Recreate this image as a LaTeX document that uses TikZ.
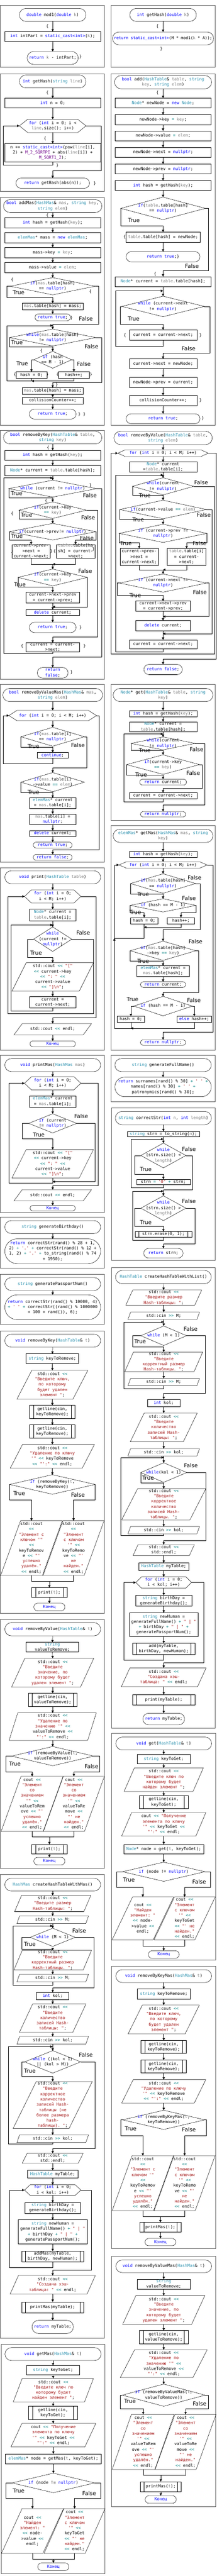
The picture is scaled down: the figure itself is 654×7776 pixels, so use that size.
\documentclass[tikz,border=0pt]{standalone}
\usepackage{fontspec}
\setmonofont{DejaVu Sans Mono}
\setsansfont{DejaVu Sans}
\usetikzlibrary{shapes.geometric,shapes.misc,arrows.meta}
\definecolor{kwc}{HTML}{0000FF}
\definecolor{tyc}{HTML}{2B91AF}
\definecolor{pac}{HTML}{808080}
\definecolor{src}{HTML}{A31515}
\definecolor{mcc}{HTML}{6F008A}
\definecolor{opc}{HTML}{008080}
\newcommand\kw[1]{\textcolor{kwc}{#1}}
\newcommand\ty[1]{\textcolor{tyc}{#1}}
\newcommand\pa[1]{\textcolor{pac}{#1}}
\newcommand\sr[1]{\textcolor{src}{#1}}
\newcommand\mc[1]{\textcolor{mcc}{#1}}
\newcommand\op[1]{\textcolor{opc}{#1}}
\newcommand\lns[1]{\makebox[0pt]{\raisebox{-3.1pt}[0pt][0pt]{\begin{tabular}{@{}c@{}}#1\end{tabular}}}}
\newcommand\ioframe[2]{\draw [thick] ([xshift=#2]#1.north west) -- (#1.north east) -- ([xshift=-#2]#1.south east) -- (#1.south west) -- cycle;}
\newcommand\hexframe[2]{\draw [thick] (#1.west) -- ([xshift=#2]#1.north west) -- ([xshift=-#2]#1.north east) -- (#1.east) -- ([xshift=-#2]#1.south east) -- ([xshift=#2]#1.south west) -- cycle;}
\tikzset{
  base/.style={inner sep=0pt, outer sep=0pt, line width=0.8pt, font=\ttfamily\fontsize{12.5}{16}\selectfont},
  term/.style 2 args={base, draw, rounded rectangle, minimum width=#1, minimum height=#2},
  proc/.style 2 args={base, draw, rectangle, minimum width=#1, minimum height=#2},
  pred/.style 2 args={proc={#1}{#2}, path picture={\draw [line width=0.8pt] ([xshift=12pt]path picture bounding box.north west) -- ([xshift=12pt]path picture bounding box.south west) ([xshift=-12pt]path picture bounding box.north east) -- ([xshift=-12pt]path picture bounding box.south east);}},
  dec/.style 2 args={base, draw, diamond, minimum width=#1, minimum height=#2},
  bare/.style 2 args={base, rectangle, minimum width=#1, minimum height=#2},
  lbl/.style={inner sep=0pt, font=\sffamily\fontsize{16.5}{18}\selectfont},
  brc/.style={inner sep=0pt, font=\ttfamily\fontsize{12.5}{16}\selectfont},
  panel/.style={draw=black!65, line width=1.2pt}
}
\begin{document}
\begin{tikzpicture}[x=1pt, y=-1pt, >={Triangle[length=7pt,width=7pt]}]
\path [fill=white] (0,0) rectangle (654,7776);
\draw [panel] (1,16) rectangle (315,203);
\draw [panel] (335,16) rectangle (649,203);
\draw [panel] (1,223) rectangle (315,577);
\draw [panel] (335,223) rectangle (649,1283);
\draw [panel] (1,597) rectangle (315,1283);
\draw [panel] (1,1299) rectangle (315,2051);
\draw [panel] (1,2066) rectangle (315,2602);
\draw [panel] (335,2066) rectangle (649,2476);
\draw [panel] (335,2492) rectangle (649,3170);
\draw [panel] (1,2619) rectangle (315,3170);
\draw [panel] (1,3186) rectangle (315,3660);
\draw [panel] (335,3186) rectangle (649,3325);
\draw [panel] (336,3345) rectangle (649,3805);
\draw [panel] (1,3674) rectangle (315,3828);
\draw [panel] (1,3846) rectangle (315,3997);
\draw [panel] (336,3826) rectangle (649,5217);
\draw [panel] (1,4018) rectangle (315,4870);
\draw [panel] (1,4888) rectangle (315,5640);
\draw [panel] (337,5233) rectangle (650,5917);
\draw [panel] (1,5659) rectangle (315,7058);
\draw [panel] (337,5935) rectangle (650,6788);
\draw [panel] (337,6811) rectangle (650,7567);
\draw [panel] (3,7076) rectangle (317,7768);

\node [term={201}{39}] (ma1) at (159,45) {\lns{\kw{double} mod1(\kw{double} \pa{k})}};
\node [brc] (ma2) at (143,79) {\{};
\node [proc={288}{30}] (ma3) at (159,110) {\lns{\kw{int} intPart = \kw{static\_cast<int>}(\pa{k});}};
\node [term={154}{39}] (ma4) at (159,175) {\lns{\kw{return} \pa{k} - intPart;}};
\node [brc] (ma5) at (243,171) {\}};
\draw [thick, ->] (ma1.south) -- (ma3.north);
\draw [thick, ->] (ma3.south) -- (ma4.north);

\node [term={201}{39}] (ga1) at (492,45) {\lns{\kw{int} getHash(\kw{double} \pa{k})}};
\node [brc] (ga2) at (475,79) {\{};
\node [term={305}{39}, font=\ttfamily\fontsize{12}{16}\selectfont] (ga3) at (492,116) {\lns{\kw{return static\_cast<int>}(M * mod1(\pa{k} * A));}};
\node [brc] (ga4) at (487,148) {\}};
\draw [thick, ->] (ga1.south) -- (ga3.north);

\node [term={201}{39}] (gs1) at (159,246) {\lns{\kw{int} getHash(\ty{string} \pa{line})}};
\node [brc] (gs2) at (143,280) {\{};
\node [proc={288}{30}] (gs3) at (159,311) {\lns{\kw{int} n = 0;}};
\node [bare={201}{40}] (gs4) at (159,380) {\lns{\kw{for} (\kw{int} i = 0; i <\\ \pa{line}.size(); i++)}};
\node [brc] (gs5) at (136,419) {\{};
\node [proc={288}{55}] (gs6) at (159,461) {\lns{n += \kw{static\_cast<int>}(pow(\pa{line}[i],\\ 2) + \mc{M\_2\_SQRTPI} + abs(\pa{line}[i]) +\\ \mc{M\_SQRT1\_2});}};
\node [brc] (gs7) at (173,499) {\}};
\node [term={222}{31}] (gs8) at (159,553) {\lns{\kw{return} getHash(abs(n));}};
\node [brc] (gs9) at (286,554) {\}};
\hexframe{gs4}{25}
\draw [thick, ->] (gs1.south) -- (gs3.north);
\draw [thick, ->] (gs3.south) -- (gs4.north);
\draw [thick, ->] (gs4.south) -- (gs6.north);
\draw [thick, ->] (gs6.south) |- (9,498) |- (gs4.west);
\draw [thick, ->] (gs4.east) -| (305,515) -| (gs8.north);

\node [term={293}{40}] (ad1) at (492,248) {\lns{\kw{bool} add(\ty{HashTable}\& \pa{table}, \ty{string}\\ \pa{key}, \ty{string} \pa{elem})}};
\node [brc] (ad2) at (475,280) {\{};
\node [proc={289}{30}] (ad3) at (492,311) {\lns{\ty{Node}* newNode = \kw{new} \ty{Node};}};
\node [proc={289}{30}] (ad4) at (492,361) {\lns{newNode->key \op{=} \pa{key};}};
\node [proc={289}{30}] (ad5) at (492,410) {\lns{newNode->value \op{=} \pa{elem};}};
\node [proc={289}{30}] (ad6) at (492,460) {\lns{newNode->next = \kw{nullptr};}};
\node [proc={289}{30}] (ad7) at (492,510) {\lns{newNode->prev = \kw{nullptr};}};
\node [proc={289}{30}] (ad8) at (492,560) {\lns{\kw{int} hash = getHash(\pa{key});}};
\node [dec={255}{68}] (ad9) at (492,629) {\lns{\kw{if}(\pa{table}.table[hash]\\ == \kw{nullptr})}};
\node [lbl] (ad10) at (404,665) {True};
\node [brc] (ad11) at (376,716) {\{};
\node [proc={223}{31}] (ad12) at (492,716) {\lns{\pa{table}.table[hash] = newNode;}};
\node [term={223}{31}] (ad13) at (492,775) {\lns{\kw{return true};\}}};
\node [lbl] (ad14) at (579,804) {False};
\node [brc] (ad15) at (468,827) {\{};
\node [proc={289}{30}] (ad16) at (492,850) {\lns{\ty{Node}* current = \pa{table}.table[hash];}};
\node [dec={249}{62}] (ad17) at (492,925) {\lns{\kw{while} (current->next\\ != \kw{nullptr})}};
\node [lbl] (ad18) at (403,962) {True};
\node [brc] (ad19) at (377,1012) {\{};
\node [proc={204}{31}] (ad20) at (492,1011) {\lns{current = current->next;}};
\node [brc] (ad21) at (605,1012) {\}};
\node [lbl] (ad22) at (569,1052) {False};
\node [proc={204}{30}] (ad23) at (492,1098) {\lns{current->next = newNode;}};
\node [proc={204}{31}] (ad24) at (492,1154) {\lns{newNode->prev = current;}};
\node [proc={204}{31}] (ad25) at (492,1209) {\lns{collisionCounter++;}};
\node [brc] (ad26) at (605,1208) {\}};
\node [term={223}{30}] (ad27) at (492,1264) {\lns{\kw{return true};}};
\node [brc] (ad28) at (612,1263) {\}};
\draw [thick, ->] (ad1.south) -- (ad3.north);
\draw [thick, ->] (ad3.south) -- (ad4.north);
\draw [thick, ->] (ad4.south) -- (ad5.north);
\draw [thick, ->] (ad5.south) -- (ad6.north);
\draw [thick, ->] (ad6.south) -- (ad7.north);
\draw [thick, ->] (ad7.south) -- (ad8.north);
\draw [thick, ->] (ad8.south) -- (ad9.north);
\draw [thick, ->] (ad9.west) |- (492,682) -- (ad12.north);
\draw [thick, ->] (ad12.south) -- (ad13.north);
\draw [thick, ->] (ad9.east) -| (628,817) -| (ad16.north);
\draw [thick, ->] (ad16.south) -- (ad17.north);
\draw [thick, ->] (ad17.west) -| (362,979) -| (ad20.north);
\draw [thick, ->] (ad20.south) |- (349,1045) |- ([yshift=16]ad17.north);
\draw [thick, ->] (ad17.east) -| (633,1065) -| (ad23.north);
\draw [thick, ->] (ad23.south) -- (ad24.north);
\draw [thick, ->] (ad24.south) -- (ad25.north);
\draw [thick, ->] (ad25.south) -- (ad27.north);

\node [term={297}{39}] (am1) at (159,622) {\lns{\kw{bool} addMas(\ty{HashMas}\& \pa{mas}, \ty{string} \pa{key},\\ \ty{string} \pa{elem})}};
\node [brc] (am2) at (143,650) {\{};
\node [proc={288}{31}] (am3) at (159,672) {\lns{\kw{int} hash = getHash(\pa{key});}};
\node [proc={288}{31}] (am4) at (159,717) {\lns{\ty{elemMas}* mass = \kw{new} \ty{elemMas};}};
\node [proc={288}{31}] (am5) at (159,762) {\lns{mass->key \op{=} \pa{key};}};
\node [proc={288}{31}] (am6) at (159,808) {\lns{mass->value \op{=} \pa{elem};}};
\node [brc] (am7) at (37,844) {\{};
\node [dec={256}{52}] (am8) at (159,864) {\lns{\kw{if}(\pa{mas}.table[hash]\\ == \kw{nullptr})}};
\node [lbl] (am9) at (56,883) {True};
\node [brc] (am10) at (273,881) {\{};
\node [proc={185}{20}] (am11) at (159,925) {\lns{\pa{mas}.table[hash] = mass;}};
\node [term={107}{21}] (am12) at (159,958) {\lns{\kw{return true};}};
\node [brc] (am13) at (216,959) {\}};
\node [lbl] (am14) at (259,962) {False};
\node [dec={261}{51}] (am15) at (159,1019) {\lns{\kw{while}(\pa{mas}.table[hash]\\ != \kw{nullptr})}};
\node [lbl] (am16) at (51,1033) {True};
\node [lbl] (am17) at (276,1046) {False};
\node [brc] (am18) at (125,1060) {\{};
\node [dec={114}{51}] (am19) at (159,1086) {\lns{\kw{if} (hash\\ == M - 1)}};
\node [lbl] (am20) at (67,1097) {True};
\node [lbl] (am21) at (253,1099) {False};
\node [proc={93}{20}] (am22) at (95,1132) {\lns{hash = 0;}};
\node [brc] (am23) at (45,1131) {\{};
\node [brc] (am24) at (143,1131) {\}};
\node [proc={93}{20}] (am25) at (223,1132) {\lns{hash++;}};
\node [brc] (am26) at (174,1131) {\{};
\node [brc] (am27) at (275,1131) {\}};
\node [brc] (am28) at (171,1162) {\}};
\node [proc={185}{20}] (am29) at (159,1180) {\lns{\pa{mas}.table[hash] = mass;}};
\node [proc={185}{20}] (am30) at (159,1209) {\lns{collisionCounter++;}};
\node [term={141}{30}] (am31) at (159,1250) {\lns{\kw{return true};}};
\node [brc] (am32) at (247,1250) {\} \}};
\draw [thick, ->] (am1.south) -- (am3.north);
\draw [thick, ->] (am3.south) -- (am4.north);
\draw [thick, ->] (am4.south) -- (am5.north);
\draw [thick, ->] (am5.south) -- (am6.north);
\draw [thick, ->] (am6.south) -- (am8.north);
\draw [thick, ->] (am8.west) -| (20,898) -| (am11.north);
\draw [thick, ->] (am11.south) -- (am12.north);
\draw [thick, ->] (am8.east) -| (297,978) -| (am15.north);
\draw [thick, ->] (am15.west) |- (159,1047) -- (am19.north);
\draw [thick, ->] (am19.west) -| (am22.north);
\draw [thick, ->] (am19.east) -| (am25.north);
\draw [thick, ->] (am25.south) |- (95,1150);
\draw [thick, ->] (am22.south) |- (20,1150) |- ([yshift=11]am15.north);
\draw [thick, ->] (am15.east) -| (306,1155) -| (am29.north);
\draw [thick, ->] (am29.south) -- (am30.north);
\draw [thick, ->] (am30.south) -- (am31.north);

\node [term={297}{38}] (rk1) at (159,1321) {\lns{\kw{bool} removeByKey(\ty{HashTable}\& \pa{table},\\ \ty{string} \pa{key})}};
\node [brc] (rk2) at (145,1351) {\{};
\node [proc={288}{30}] (rk3) at (159,1374) {\lns{\kw{int} hash = getHash(\pa{key});}};
\node [proc={288}{31}] (rk4) at (159,1420) {\lns{\ty{Node}* current = \pa{table}.table[hash];}};
\node [dec={265}{51}] (rk5) at (159,1475) {\lns{\kw{while} (current != \kw{nullptr})}};
\node [brc] (rk6) at (273,1465) {\}};
\node [lbl] (rk7) at (50,1490) {True};
\node [lbl] (rk8) at (271,1496) {False};
\node [brc] (rk9) at (139,1512) {\{};
\node [dec={203}{50}] (rk10) at (159,1540) {\lns{\kw{if}(current->key\\ \op{==} \pa{key})}};
\node [brc] (rk11) at (37,1551) {\{};
\node [lbl] (rk12) at (80,1555) {True};
\node [lbl] (rk13) at (266,1562) {False};
\node [dec={262}{50}] (rk14) at (159,1605) {\lns{\kw{if}(current->prev!= \kw{nullptr})}};
\node [lbl] (rk15) at (51,1619) {True};
\node [lbl] (rk16) at (262,1625) {False};
\node [proc={116}{41}] (rk17) at (94,1664) {\lns{current->prev-\\>next =\\current->next;}};
\node [brc] (rk18) at (37,1669) {\{};
\node [brc] (rk19) at (155,1664) {\}};
\node [brc] (rk20) at (165,1664) {\{};
\node [proc={116}{41}] (rk21) at (228,1664) {\lns{\pa{table}.table[ha\\sh] = current-\\>next;}};
\node [brc] (rk22) at (282,1658) {\}};
\coordinate (rkm) at (159,1703);
\node [dec={209}{51}] (rk23) at (159,1743) {\lns{\kw{if}(current->key\\ \op{==} \pa{key})}};
\node [lbl] (rk24) at (257,1724) {False};
\node [lbl] (rk25) at (60,1765) {True};
\node [proc={163}{32}] (rk26) at (159,1804) {\lns{current->next->prev\\ = current->prev;}};
\coordinate (rkn) at (159,1832);
\node [proc={163}{18}] (rk27) at (159,1849) {\lns{\kw{delete} current;}};
\node [term={141}{31}] (rk28) at (159,1894) {\lns{\kw{return true};}};
\node [brc] (rk29) at (243,1895) {\}};
\node [brc] (rk30) at (67,1950) {\{};
\node [proc={163}{28}] (rk31) at (159,1954) {\lns{current = current-\\>next;}};
\node [brc] (rk32) at (255,1950) {\}};
\node [term={93}{32}] (rk33) at (159,2031) {\lns{\kw{return}\\ \kw{false};}};
\node [brc] (rk34) at (216,2030) {\}};
\draw [thick, ->] (rk1.south) -- (rk3.north);
\draw [thick, ->] (rk3.south) -- (rk4.north);
\draw [thick, ->] (rk4.south) -- (rk5.north);
\draw [thick, ->] (rk5.west) |- (159,1503) -- (rk10.north);
\draw [thick, ->] (rk5.east) -| (306,1983) -| (rk33.north);
\draw [thick, ->] (rk10.west) |- (159,1567) -- (rk14.north);
\draw [thick, ->] (rk10.east) -| (295,1923) -| (rk31.north);
\draw [thick, ->] (rk14.west) |- (94,1631) -- (rk17.north);
\draw [thick, ->] (rk14.east) |- (228,1631) -- (rk21.north);
\draw [thick] (rk17.south) |- (rkm);
\draw [thick, ->] (rk21.south) |- (rkm);
\draw [thick, ->] (rkm) -- (rk23.north);
\draw [thick, ->] (rk23.west) |- (159,1771) -- (rk26.north);
\draw [thick, ->] (rk23.east) |- (rkn);
\draw [thick, ->] (rk26.south) -- (rk27.north);
\draw [thick, ->] (rk27.south) -- (rk28.north);
\draw [thick, ->] (rk31.south) |- (12,1972) |- ([yshift=7]rk5.north);

\node [term={297}{40}] (rv1) at (492,1322) {\lns{\kw{bool} removeByValue(\ty{HashTable}\& \pa{table},\\ \ty{string} \pa{elem})}};
\node [bare={273}{20}] (rv2) at (492,1368) {\lns{\kw{for} (\kw{int} i = 0; i < M; i++)}};
\node [proc={204}{31}] (rv3) at (492,1410) {\lns{\ty{Node}* current\\ =\pa{table}.table[i];}};
\node [dec={185}{52}] (rv4) at (492,1468) {\lns{\kw{while}(current\\ != \kw{nullptr})}};
\node [lbl] (rv5) at (607,1457) {False};
\node [lbl] (rv6) at (437,1495) {True};
\node [dec={261}{56}] (rv7) at (492,1538) {\lns{\kw{if}(current->value \op{==} \pa{elem})}};
\node [lbl] (rv8) at (615,1555) {False};
\node [lbl] (rv9) at (417,1568) {True};
\node [dec={264}{55}] (rv10) at (492,1610) {\lns{\kw{if} (current->prev !=\\ \kw{nullptr})}};
\node [lbl] (rv11) at (380,1640) {True};
\node [lbl] (rv12) at (602,1640) {False};
\node [proc={116}{51}] (rv13) at (420,1681) {\lns{current->prev-\\>next =\\current->next;}};
\node [proc={117}{51}] (rv14) at (563,1681) {\lns{\pa{table}.table[i]\\ = current-\\>next;}};
\coordinate (rvm1) at (492,1720);
\node [dec={262}{55}] (rv15) at (492,1760) {\lns{\kw{if} (current->next !=\\ \kw{nullptr})}};
\node [lbl] (rv16) at (408,1797) {True};
\node [lbl] (rv17) at (603,1788) {False};
\node [proc={166}{31}] (rv18) at (492,1830) {\lns{current->next->prev\\ = current->prev;}};
\coordinate (rvm3) at (492,1861);
\node [proc={166}{31}] (rv19) at (492,1889) {\lns{\kw{delete} current;}};
\coordinate (rvm2) at (492,1913);
\node [proc={204}{27}] (rv20) at (492,1945) {\lns{current = current->next;}};
\node [term={116}{31}] (rv21) at (492,2021) {\lns{\kw{return false};}};
\hexframe{rv2}{22}
\draw [thick, ->] (rv1.south) -- (rv2.north);
\draw [thick, ->] (rv2.south) -- (rv3.north);
\draw [thick, ->] (rv3.south) -- (rv4.north);
\draw [thick, ->] (rv4.west) |- (492,1495) -- (rv7.north);
\draw [thick, ->] (rv4.east) -| (647,1974) -| (335,1368) -- (rv2.west);
\draw [thick, ->] (rv2.east) -| (652,1989) -| (rv21.north);
\draw [thick, ->] (rv7.west) |- (492,1568) -- (rv10.north);
\draw [thick, ->] (rv7.east) -| (640,1913) -- (rvm2);
\draw [thick, ->] (rv10.west) |- (420,1638) -- (rv13.north);
\draw [thick, ->] (rv10.east) |- (563,1638) -- (rv14.north);
\draw [thick] (rv13.south) |- (rvm1);
\draw [thick, ->] (rv14.south) |- (rvm1);
\draw [thick, ->] (rvm1) -- (rv15.north);
\draw [thick, ->] (rv15.west) -| (353,1797) -| (rv18.north);
\draw [thick, ->] (rv15.east) -| (630,1861) -- (rvm3);
\draw [thick, ->] (rv18.south) -- (rv19.north);
\draw [thick, ->] (rv19.south) -- (rv20.north);
\draw [thick, ->] (rv20.south) |- (349,1967) |- ([yshift=8]rv4.north);

\node [term={301}{39}] (rm1) at (159,2098) {\lns{\kw{bool} removeByValueMas(\ty{HashMas}\& \pa{mas},\\ \ty{string} \pa{elem})}};
\node [bare={264}{31}] (rm2) at (159,2160) {\lns{\kw{for} (\kw{int} i = 0; i < M; i++)}};
\node [dec={192}{57}] (rm3) at (159,2224) {\lns{\kw{if}(\pa{mas}.table[i]\\ == \kw{nullptr})}};
\node [lbl] (rm4) at (101,2253) {True};
\node [lbl] (rm5) at (235,2249) {False};
\node [proc={93}{17}] (rm6) at (159,2280) {\lns{\kw{continue};}};
\node [dec={192}{58}] (rm7) at (159,2361) {\lns{\kw{if}(\pa{mas}.table[i]\\->value \op{==} \pa{elem})}};
\node [lbl] (rm8) at (101,2391) {True};
\node [proc={141}{32}] (rm9) at (159,2424) {\lns{\ty{elemMas}* current\\ = \pa{mas}.table[i];}};
\node [proc={141}{32}] (rm10) at (159,2473) {\lns{\pa{mas}.table[i] =\\ \kw{nullptr};}};
\node [proc={141}{18}] (rm11) at (159,2516) {\lns{\kw{delete} current;}};
\node [term={117}{18}] (rm12) at (159,2551) {\lns{\kw{return true};}};
\node [term={117}{18}] (rm13) at (159,2588) {\lns{\kw{return false};}};
\hexframe{rm2}{24}
\draw [thick, ->] (rm1.south) -- (rm2.north);
\draw [thick, ->] (rm2.south) -- (rm3.north);
\draw [thick, ->] (rm3.west) |- (159,2255) -- (rm6.north);
\draw [thick, ->] (rm6.south) |- (9,2305) |- (rm2.west);
\draw [thick, ->] (rm3.east) -| (262,2317) -| (rm7.north);
\draw [thick, ->] (rm7.west) |- (159,2392) -- (rm9.north);
\draw [thick, ->] (rm9.south) -- (rm10.north);
\draw [thick, ->] (rm10.south) -- (rm11.north);
\draw [thick, ->] (rm11.south) -- (rm12.north);
\draw [thick, ->] (rm2.east) -| (299,2565) -| (rm13.north);

\node [term={301}{39}] (ge1) at (492,2098) {\lns{\ty{Node}* get(\ty{HashTable}\& \pa{table}, \ty{string}\\ \pa{key})}};
\node [proc={204}{19}] (ge2) at (492,2154) {\lns{\kw{int} hash = getHash(\pa{key});}};
\node [proc={204}{31}] (ge3) at (492,2194) {\lns{\ty{Node}* current =\\ \pa{table}.table[hash];}};
\node [dec={193}{39}] (ge4) at (492,2244) {\lns{\kw{while}(current\\ != \kw{nullptr})}};
\node [lbl] (ge5) at (437,2265) {True};
\node [lbl] (ge6) at (593,2262) {False};
\node [dec={220}{59}] (ge7) at (492,2308) {\lns{\kw{if}(current->key\\ \op{==} \pa{key})}};
\node [lbl] (ge8) at (426,2339) {True};
\node [lbl] (ge9) at (583,2333) {False};
\node [term={141}{18}] (ge10) at (492,2361) {\lns{\kw{return} current;}};
\node [proc={204}{19}] (ge11) at (492,2402) {\lns{current = current->next;}};
\node [term={137}{17}] (ge12) at (492,2458) {\lns{\kw{return nullptr};}};
\draw [thick, ->] (ge1.south) -- (ge2.north);
\draw [thick, ->] (ge2.south) -- (ge3.north);
\draw [thick, ->] (ge3.south) -- (ge4.north);
\draw [thick, ->] (ge4.west) |- (492,2265) -- (ge7.north);
\draw [thick, ->] (ge4.east) -| (618,2430) -| (ge12.north);
\draw [thick, ->] (ge7.west) |- (492,2340) -- (ge10.north);
\draw [thick, ->] (ge7.east) -| (610,2380) -| (ge11.north);
\draw [thick, ->] (ge11.south) |- (374,2421) |- ([yshift=9]ge4.north);

\node [term={301}{40}] (gm1) at (492,2523) {\lns{\ty{elemMas}* getMas(\ty{HashMas}\& \pa{mas}, \ty{string}\\ \pa{key})}};
\node [proc={204}{18}] (gm2) at (492,2579) {\lns{\kw{int} hash = getHash(\pa{key});}};
\node [bare={266}{19}] (gm3) at (492,2611) {\lns{\kw{for} (\kw{int} i = 0; i < M; i++)}};
\node [dec={196}{59}] (gm4) at (492,2667) {\lns{\kw{if}(\pa{mas}.table[hash]\\ == \kw{nullptr})}};
\node [lbl] (gm5) at (587,2649) {False};
\node [lbl] (gm6) at (432,2699) {True};
\node [dec={198}{40}] (gm7) at (492,2733) {\lns{\kw{if} (hash == M - 1)}};
\node [lbl] (gm8) at (570,2712) {False};
\node [lbl] (gm9) at (408,2754) {True};
\node [proc={82}{19}] (gm10) at (435,2779) {\lns{hash = 0;}};
\node [proc={82}{19}] (gm11) at (546,2779) {\lns{hash++;}};
\coordinate (gmm1) at (435,2799);
\coordinate (gmj) at (345,2832);
\node [dec={198}{58}] (gm12) at (492,2870) {\lns{\kw{if}(\pa{mas}.table[hash]\\->key \op{==} \pa{key})}};
\node [lbl] (gm13) at (590,2842) {False};
\node [lbl] (gm14) at (432,2901) {True};
\node [proc={159}{32}] (gm15) at (492,2931) {\lns{\ty{elemMas}* current =\\ \pa{mas}.table[hash];}};
\node [term={137}{17}] (gm16) at (492,2972) {\lns{\kw{return} current;}};
\node [dec={176}{59}] (gm17) at (492,3037) {\lns{\kw{if} (hash == M - 1)}};
\node [lbl] (gm18) at (400,3017) {True};
\node [lbl] (gm19) at (585,3020) {False};
\node [proc={83}{19}] (gm20) at (395,3077) {\lns{hash = 0;}};
\node [proc={105}{19}] (gm21) at (586,3077) {\lns{\kw{else} hash++;}};
\coordinate (gmm2) at (395,3104);
\node [term={137}{17}] (gm22) at (492,3147) {\lns{\kw{return nullptr};}};
\hexframe{gm3}{22}
\draw [thick, ->] (gm1.south) -- (gm2.north);
\draw [thick, ->] (gm2.south) -- (gm3.north);
\draw [thick, ->] (gm3.south) -- (gm4.north);
\draw [thick, ->] (gm4.west) |- (492,2699) -- (gm7.north);
\draw [thick, ->] (gm4.east) -| (604,2806) -| (gm12.north);
\draw [thick, ->] (gm7.west) |- (435,2755) -- (gm10.north);
\draw [thick, ->] (gm7.east) |- (546,2755) -- (gm11.north);
\draw [thick, ->] (gm11.south) |- (gmm1);
\draw [thick, ->] (gm10.south) |- (gmj) |- (gm3.west);
\draw [thick, ->] (gm12.west) |- (492,2901) -- (gm15.north);
\draw [thick, ->] (gm15.south) -- (gm16.north);
\draw [thick, ->] (gm12.east) -| (599,2995) -| (gm17.north);
\draw [thick, ->] (gm17.west) -| (gm20.north);
\draw [thick, ->] (gm17.east) -| (gm21.north);
\draw [thick, ->] (gm21.south) |- (gmm2);
\draw [thick, ->] (gm20.south) |- (345,3104) -- (gmj);
\draw [thick, ->] (gm3.east) -| (643,3115) -| (gm22.north);

\node [term={289}{39}] (pr1) at (159,2648) {\lns{\kw{void} print(\ty{HashTable} \pa{table})}};
\node [bare={170}{40}] (pr2) at (159,2706) {\lns{\kw{for} (\kw{int} i = 0;\\ i < M; i++)}};
\node [proc={141}{35}] (pr3) at (159,2762) {\lns{\ty{Node}* current =\\ \pa{table}.table[i];}};
\node [dec={115}{74}] (pr4) at (159,2835) {\lns{\kw{while}\\ (current !=\\ \kw{nullptr})}};
\node [lbl] (pr5) at (251,2815) {False};
\node [lbl] (pr6) at (109,2877) {True};
\node [bare={246}{86}] (pr7) at (159,2949) {\lns{std::cout \op{<<} \sr{"["}\\ \op{<<} current->key\\ \op{<<} \sr{": "} \op{<<}\\ current->value\\ \op{<<} \sr{"]\textbackslash n"};}};
\node [proc={141}{35}] (pr8) at (159,3025) {\lns{current =\\ current->next;}};
\node [bare={234}{34}] (pr9) at (159,3107) {\lns{std::cout \op{<<} endl;}};
\node [term={137}{18}] (pr10) at (159,3151) {\lns{\kw{Конец}}};
\hexframe{pr2}{21}
\ioframe{pr7}{43}
\ioframe{pr9}{25}
\draw [thick, ->] (pr1.south) -- (pr2.north);
\draw [thick, ->] (pr2.south) -- (pr3.north);
\draw [thick, ->] (pr3.south) -- (pr4.north);
\draw [thick, ->] (pr4.west) -| (83,2890) -| (pr7.north);
\draw [thick, ->] (pr7.south) -- (pr8.north);
\draw [thick, ->] (pr8.south) |- (33,3051) |- ([yshift=6]pr4.north);
\draw [thick, ->] (pr4.east) -| (282,3059) -| (24,2706) -- (pr2.west);
\draw [thick, ->] (pr2.east) -| (290,3072) -| (pr9.north);
\draw [thick, ->] (pr9.south) -- (pr10.north);

\node [term={289}{39}] (pm1) at (159,3215) {\lns{\kw{void} printMas(\ty{HashMas} \pa{mas})}};
\node [bare={170}{40}] (pm2) at (159,3270) {\lns{\kw{for} (\kw{int} i = 0;\\ i < M; i++)}};
\node [proc={141}{35}] (pm3) at (159,3325) {\lns{\ty{elemMas}* current\\ = \pa{mas}.table[i];}};
\node [dec={145}{58}] (pm4) at (159,3391) {\lns{\kw{if} (current\\ != \kw{nullptr})}};
\node [lbl] (pm5) at (245,3370) {False};
\node [lbl] (pm6) at (117,3425) {True};
\node [bare={246}{86}] (pm7) at (159,3513) {\lns{std::cout \op{<<} \sr{"["}\\ \op{<<} current->key\\ \op{<<} \sr{": "} \op{<<}\\ current->value\\ \op{<<} \sr{"]\textbackslash n"};}};
\coordinate (pmm) at (159,3567);
\node [bare={234}{34}] (pm8) at (159,3608) {\lns{std::cout \op{<<} endl;}};
\node [term={137}{17}] (pm9) at (159,3647) {\lns{\kw{Конец}}};
\hexframe{pm2}{21}
\ioframe{pm7}{43}
\ioframe{pm8}{25}
\draw [thick, ->] (pm1.south) -- (pm2.north);
\draw [thick, ->] (pm2.south) -- (pm3.north);
\draw [thick, ->] (pm3.south) -- (pm4.north);
\draw [thick, ->] (pm4.west) -| (68,3437) -| (pm7.north);
\draw [thick, ->] (pm4.east) -| (286,3567) -- (pmm);
\draw [thick, ->] (pm7.south) |- (27,3571) |- (pm2.west);
\draw [thick, ->] (pm2.east) -| (296,3579) -| (pm8.north);
\draw [thick, ->] (pm8.south) -- (pm9.north);

\node [term={291}{39}] (fn1) at (492,3215) {\lns{\ty{string} generateFullName()}};
\node [term={291}{59}] (fn2) at (492,3281) {\lns{\kw{return} surnames[rand() \% 30] \op{+} \sr{' '} \op{+}\\ names[rand() \% 30] \op{+} \sr{' '} \op{+}\\ patronymics[rand() \% 30];}};
\draw [thick, ->] (fn1.south) -- (fn2.north);

\node [term={290}{40}] (cs1) at (493,3375) {\lns{\ty{string} correctStr(\kw{int} \pa{n}, \kw{int} \pa{length})}};
\node [proc={218}{16}] (cs2) at (493,3423) {\lns{\ty{string} strn = to\_string(\pa{n});}};
\node [dec={136}{75}] (cs3) at (493,3488) {\lns{\kw{while}\\ (strn.size() <\\ \pa{length})}};
\node [lbl] (cs4) at (570,3469) {False};
\node [lbl] (cs5) at (440,3530) {True};
\node [proc={161}{17}] (cs6) at (493,3568) {\lns{strn \op{=} \sr{'0'} \op{+} strn;}};
\node [dec={136}{75}] (cs7) at (493,3647) {\lns{\kw{while}\\ (strn.size() >\\ \pa{length})}};
\node [lbl] (cs8) at (570,3626) {False};
\node [lbl] (cs9) at (440,3690) {True};
\node [pred={171}{17}] (cs10) at (493,3726) {\lns{strn.erase(0, 1);}};
\node [term={119}{29}] (cs11) at (493,3783) {\lns{\kw{return} strn;}};
\draw [thick, ->] (cs1.south) -- (cs2.north);
\draw [thick, ->] (cs2.south) -- (cs3.north);
\draw [thick, ->] (cs3.west) -| (407,3544) -| (cs6.north);
\draw [thick, ->] (cs6.south) |- (395,3585) |- ([yshift=12]cs3.north);
\draw [thick, ->] (cs3.east) -| (580,3592) -| (cs7.north);
\draw [thick, ->] (cs7.west) -| (407,3702) -| (cs10.north);
\draw [thick, ->] (cs10.south) |- (400,3744) |- ([yshift=14]cs7.north);
\draw [thick, ->] (cs7.east) -| (588,3754) -| (cs11.north);

\node [term={289}{39}] (bd1) at (159,3704) {\lns{\ty{string} generateBirthday()}};
\node [term={289}{75}] (bd2) at (159,3777) {\lns{\kw{return} correctStr(rand() \% 28 + 1,\\ 2) \op{+} \sr{'.'} \op{+} correctStr(rand() \% 12 +\\ 1, 2) \op{+} \sr{'.'} \op{+} to\_string(rand() \% 74\\ + 1950);}};
\draw [thick, ->] (bd1.south) -- (bd2.north);

\node [term={289}{39}] (pn1) at (159,3876) {\lns{\ty{string} generatePassportNum()}};
\node [term={289}{75}] (pn2) at (159,3946) {\lns{\kw{return} correctStr(rand() \% 10000, 4)\\ \op{+} \sr{' '} \op{+} correctStr((rand() \% 1000000\\ + 100 + rand()), 6);}};
\draw [thick, ->] (pn1.south) -- (pn2.north);

\node [term={289}{40}] (cl1) at (493,3855) {\lns{\ty{HashTable} createHashTableWithList()}};
\node [bare={229}{46}] (cl2) at (494,3917) {\lns{std::cout \op{<<}\\ \sr{"Введите размер}\\ \sr{Hash-таблицы: "};}};
\node [bare={216}{22}] (cl3) at (494,3972) {\lns{std::cin \op{>>} M;}};
\node [dec={138}{59}] (cl4) at (494,4032) {\lns{\kw{while} (M < 1)}};
\node [lbl] (cl5) at (575,4012) {False};
\node [lbl] (cl6) at (423,4049) {True};
\node [bare={235}{59}] (cl7) at (494,4111) {\lns{std::cout \op{<<}\\ \sr{"Введите}\\ \sr{корректный размер}\\ \sr{Hash-таблицы. "};}};
\node [bare={216}{22}] (cl8) at (494,4172) {\lns{std::cin \op{>>} M;}};
\node [proc={98}{23}] (cl9) at (494,4235) {\lns{\kw{int} kol;}};
\node [bare={202}{87}] (cl10) at (494,4309) {\lns{std::cout \op{<<}\\ \sr{"Введите}\\ \sr{количество}\\ \sr{записей Hash-}\\ \sr{таблицы: "};}};
\node [bare={216}{22}] (cl11) at (494,4384) {\lns{std::cin \op{>>} kol;}};
\node [dec={139}{59}] (cl12) at (494,4445) {\lns{\kw{while}(kol < 1)}};
\node [lbl] (cl13) at (576,4424) {False};
\node [lbl] (cl14) at (447,4461) {True};
\node [bare={254}{94}] (cl15) at (494,4541) {\lns{std::cout \op{<<}\\ \sr{"Введите}\\ \sr{корректное}\\ \sr{количество}\\ \sr{записей Hash-}\\ \sr{таблицы. "};}};
\node [bare={216}{22}] (cl16) at (494,4619) {\lns{std::cin \op{>>} kol;}};
\node [bare={185}{33}] (cl17) at (494,4679) {\lns{std::cout \op{<<}\\ std::endl;}};
\node [proc={151}{23}] (cl18) at (494,4729) {\lns{\ty{HashTable} myTable;}};
\node [bare={168}{34}] (cl19) at (494,4777) {\lns{\kw{for} (\kw{int} i = 0;\\ i < kol; i++)}};
\node [proc={170}{33}] (cl20) at (494,4832) {\lns{\ty{string} birthDay =\\ generateBirthday();}};
\node [proc={207}{72}] (cl21) at (494,4904) {\lns{\ty{string} newHuman =\\ generateFullName() \op{+} \sr{" | "}\\ \op{+} birthDay \op{+} \sr{" | "} \op{+}\\ generatePassportNum();}};
\node [pred={189}{33}] (cl22) at (494,4977) {\lns{add(myTable,\\ birthDay, newHuman);}};
\node [bare={256}{57}] (cl23) at (494,5063) {\lns{std::cout \op{<<}\\ \sr{"Создана хэш-}\\ \sr{таблица: "} \op{<<} endl;}};
\node [pred={189}{32}] (cl24) at (494,5131) {\lns{print(myTable);}};
\node [term={126}{35}] (cl25) at (494,5189) {\lns{\kw{return} myTable;}};
\ioframe{cl2}{21}
\ioframe{cl3}{8}
\ioframe{cl7}{26}
\ioframe{cl8}{8}
\ioframe{cl10}{42}
\ioframe{cl11}{8}
\ioframe{cl15}{48}
\ioframe{cl16}{8}
\ioframe{cl17}{15}
\hexframe{cl19}{17}
\ioframe{cl23}{26}
\draw [thick, ->] (cl1.south) -- (cl2.north);
\draw [thick, ->] (cl2.south) -- (cl3.north);
\draw [thick, ->] (cl3.south) -- (cl4.north);
\draw [thick, ->] (cl4.west) -| (400,4065) -| (cl7.north);
\draw [thick, ->] (cl7.south) -- (cl8.north);
\draw [thick, ->] (cl8.south) |- (373,4192) |- ([yshift=12]cl4.north);
\draw [thick, ->] (cl4.east) -| (619,4205) -| (cl9.north);
\draw [thick, ->] (cl9.south) -- (cl10.north);
\draw [thick, ->] (cl10.south) -- (cl11.north);
\draw [thick, ->] (cl11.south) -- (cl12.north);
\draw [thick, ->] (cl12.west) |- (494,4476) -- (cl15.north);
\draw [thick, ->] (cl15.south) -- (cl16.north);
\draw [thick, ->] (cl16.south) |- (365,4635) |- ([yshift=16]cl12.north);
\draw [thick, ->] (cl12.east) -| (621,4650) -| (cl17.north);
\draw [thick, ->] (cl17.south) -- (cl18.north);
\draw [thick, ->] (cl18.south) -- (cl19.north);
\draw [thick, ->] (cl19.south) -- (cl20.north);
\draw [thick, ->] (cl20.south) -- (cl21.north);
\draw [thick, ->] (cl21.south) -- (cl22.north);
\draw [thick, ->] (cl22.south) |- (373,5011) |- (cl19.west);
\draw [thick, ->] (cl19.east) -| (614,5019) -| (cl23.north);
\draw [thick, ->] (cl23.south) -- (cl24.north);
\draw [thick, ->] (cl24.south) -- (cl25.north);

\node [term={289}{39}] (uk1) at (159,4047) {\lns{\kw{void} removeByKey(\ty{HashTable}\& \pa{t})}};
\node [proc={159}{29}] (uk2) at (158,4101) {\lns{\ty{string} keyToRemove;}};
\node [bare={214}{87}] (uk3) at (158,4180) {\lns{std::cout \op{<<}\\ \sr{"Введите ключ,}\\ \sr{по которому}\\ \sr{будет удален}\\ \sr{элемент "};}};
\node [pred={137}{40}] (uk4) at (158,4262) {\lns{getline(cin,\\ keyToRemove);}};
\node [pred={137}{40}] (uk5) at (158,4321) {\lns{getline(cin,\\ keyToRemove);}};
\node [bare={254}{72}] (uk6) at (158,4396) {\lns{std::cout \op{<<}\\ \sr{"Удаление по ключу}\\ \sr{'"} \op{<<} keyToRemove\\ \op{<<} \sr{"':"} \op{<<} endl;}};
\node [dec={258}{59}] (uk7) at (158,4481) {\lns{\kw{if} (removeByKey(\pa{t},\\ keyToRemove))}};
\node [lbl] (uk8) at (58,4508) {True};
\node [lbl] (uk9) at (235,4512) {False};
\node [bare={186}{165}] (uk10) at (95,4673) {\lns{std::cout\\ \op{<<}\\ \sr{"Элемент с}\\ \sr{ключом '"}\\ \op{<<}\\ keyToRemov\\ e \op{<<} \sr{"'}\\ \sr{успешно}\\ \sr{удалён."}\\ \op{<<} endl;}};
\node [bare={184}{165}] (uk11) at (222,4673) {\lns{std::cout\\ \op{<<}\\ \sr{"Элемент}\\ \sr{с ключом}\\ \sr{'"} \op{<<}\\ keyToRemo\\ ve \op{<<} \sr{"'}\\ \sr{не}\\ \sr{найден."}\\ \op{<<} endl;}};
\coordinate (ukm) at (149,4774);
\node [pred={108}{30}] (uk12) at (149,4807) {\lns{print(\pa{t});}};
\node [term={94}{23}] (uk13) at (149,4851) {\lns{\kw{Конец}}};
\ioframe{uk3}{45}
\ioframe{uk6}{37}
\ioframe{uk10}{60}
\ioframe{uk11}{60}
\draw [thick, ->] (uk1.south) -- (uk2.north);
\draw [thick, ->] (uk2.south) -- (uk3.north);
\draw [thick, ->] (uk3.south) -- (uk4.north);
\draw [thick, ->] (uk4.south) -- (uk5.north);
\draw [thick, ->] (uk5.south) -- (uk6.north);
\draw [thick, ->] (uk6.south) -- (uk7.north);
\draw [thick, ->] (uk7.west) |- (95,4528) -- (uk10.north);
\draw [thick, ->] (uk7.east) |- (222,4528) -- (uk11.north);
\draw [thick] (uk10.south) |- (ukm);
\draw [thick] (uk11.south) |- (ukm);
\draw [thick, ->] (ukm) -- (uk12.north);
\draw [thick, ->] (uk12.south) -- (uk13.north);

\node [term={289}{40}] (uv1) at (159,4918) {\lns{\kw{void} removeByValue(\ty{HashTable}\& \pa{t})}};
\node [proc={159}{29}] (uv2) at (158,4972) {\lns{\ty{string}\\ valueToRemove;}};
\node [bare={248}{87}] (uv3) at (159,5049) {\lns{std::cout \op{<<}\\ \sr{"Введите}\\ \sr{значение, по}\\ \sr{которому будет}\\ \sr{удален элемент "};}};
\node [pred={147}{40}] (uv4) at (159,5131) {\lns{getline(cin,\\ valueToRemove);}};
\node [bare={263}{83}] (uv5) at (159,5212) {\lns{std::cout \op{<<}\\ \sr{"Удаление по}\\ \sr{значению '"} \op{<<}\\ valueToRemove \op{<<}\\ \sr{"':"} \op{<<} endl;}};
\node [dec={248}{58}] (uv6) at (159,5301) {\lns{\kw{if} (removeByValue(\pa{t},\\ valueToRemove))}};
\node [lbl] (uv7) at (45,5325) {True};
\node [lbl] (uv8) at (276,5332) {False};
\node [bare={187}{166}] (uv9) at (97,5445) {\lns{cout \op{<<}\\ \sr{"Элемент}\\ \sr{со}\\ \sr{значением}\\ \sr{'"} \op{<<}\\ valueToRem\\ ove \op{<<} \sr{"'}\\ \sr{успешно}\\ \sr{удалён."}\\ \op{<<} endl;}};
\node [bare={184}{166}] (uv10) at (223,5445) {\lns{cout \op{<<}\\ \sr{"Элемент}\\ \sr{со}\\ \sr{значением}\\ \sr{'"} \op{<<}\\ valueToRe\\ move \op{<<}\\ \sr{"' не}\\ \sr{найден."}\\ \op{<<} endl;}};
\coordinate (uvm) at (149,5545);
\node [pred={108}{29}] (uv11) at (149,5582) {\lns{print(\pa{t});}};
\node [term={94}{23}] (uv12) at (149,5618) {\lns{\kw{Конец}}};
\ioframe{uv3}{40}
\ioframe{uv5}{26}
\ioframe{uv9}{60}
\ioframe{uv10}{60}
\draw [thick, ->] (uv1.south) -- (uv2.north);
\draw [thick, ->] (uv2.south) -- (uv3.north);
\draw [thick, ->] (uv3.south) -- (uv4.north);
\draw [thick, ->] (uv4.south) -- (uv5.north);
\draw [thick, ->] (uv5.south) -- (uv6.north);
\draw [thick, ->] (uv6.west) -| (17,5348) -| (uv9.north);
\draw [thick, ->] (uv6.east) -| (301,5348) -| (uv10.north);
\draw [thick] (uv9.south) |- (uvm);
\draw [thick] (uv10.south) |- (uvm);
\draw [thick, ->] (uvm) -- (uv11.north);
\draw [thick, ->] (uv11.south) -- (uv12.north);

\node [term={289}{38}] (cm1) at (159,5689) {\lns{\ty{HashMas} createHashTableWithMas()}};
\node [bare={230}{49}] (cm2) at (159,5746) {\lns{std::cout \op{<<}\\ \sr{"Введите размер}\\ \sr{Hash-таблицы: "};}};
\node [bare={216}{23}] (cm3) at (159,5795) {\lns{std::cin \op{>>} M;}};
\node [dec={136}{55}] (cm4) at (159,5848) {\lns{\kw{while} (M < 1)}};
\node [lbl] (cm5) at (239,5828) {False};
\node [lbl] (cm6) at (90,5869) {True};
\node [bare={234}{59}] (cm7) at (159,5917) {\lns{std::cout \op{<<}\\ \sr{"Введите}\\ \sr{корректный размер}\\ \sr{Hash-таблицы. "};}};
\node [bare={216}{23}] (cm8) at (159,5971) {\lns{std::cin \op{>>} M;}};
\node [proc={98}{22}] (cm9) at (159,6025) {\lns{\kw{int} kol;}};
\node [bare={201}{86}] (cm10) at (159,6092) {\lns{std::cout \op{<<}\\ \sr{"Введите}\\ \sr{количество}\\ \sr{записей Hash-}\\ \sr{таблицы: "};}};
\node [bare={216}{23}] (cm11) at (159,6159) {\lns{std::cin \op{>>} kol;}};
\node [dec={169}{68}] (cm12) at (159,6224) {\lns{\kw{while} ((kol < 1)\\ || (kol > M))}};
\node [lbl] (cm13) at (259,6203) {False};
\node [lbl] (cm14) at (90,6252) {True};
\node [bare={239}{142}] (cm15) at (159,6354) {\lns{std::cout \op{<<}\\ \sr{"Введите}\\ \sr{корректное}\\ \sr{количество}\\ \sr{записей Hash-}\\ \sr{таблицы (не}\\ \sr{более размера}\\ \sr{hash-}\\ \sr{таблицы). "};}};
\node [bare={216}{23}] (cm16) at (159,6456) {\lns{std::cin \op{>>} kol;}};
\node [bare={184}{30}] (cm17) at (159,6515) {\lns{std::cout \op{<<}\\ std::endl;}};
\node [proc={151}{23}] (cm18) at (159,6563) {\lns{\ty{HashTable} myTable;}};
\node [bare={170}{32}] (cm19) at (159,6611) {\lns{\kw{for} (\kw{int} i = 0;\\ i < kol; i++)}};
\node [proc={169}{33}] (cm20) at (159,6665) {\lns{\ty{string} birthDay =\\ generateBirthday();}};
\node [proc={207}{73}] (cm21) at (159,6737) {\lns{\ty{string} newHuman =\\ generateFullName() \op{+} \sr{" | "}\\ \op{+} birthDay \op{+} \sr{" | "} \op{+}\\ generatePassportNum();}};
\node [pred={188}{32}] (cm22) at (159,6811) {\lns{addMas(myTable,\\ birthDay, newHuman);}};
\node [bare={257}{56}] (cm23) at (159,6897) {\lns{std::cout \op{<<}\\ \sr{"Создана хэш-}\\ \sr{таблица: "} \op{<<} endl;}};
\node [pred={188}{33}] (cm24) at (159,6965) {\lns{printMas(myTable);}};
\node [term={125}{40}] (cm25) at (159,7024) {\lns{\kw{return} myTable;}};
\ioframe{cm2}{21}
\ioframe{cm3}{8}
\ioframe{cm7}{25}
\ioframe{cm8}{8}
\ioframe{cm10}{40}
\ioframe{cm11}{8}
\ioframe{cm15}{70}
\ioframe{cm16}{8}
\ioframe{cm17}{15}
\hexframe{cm19}{17}
\ioframe{cm23}{25}
\draw [thick, ->] (cm1.south) -- (cm2.north);
\draw [thick, ->] (cm2.south) -- (cm3.north);
\draw [thick, ->] (cm3.south) -- (cm4.north);
\draw [thick, ->] (cm4.west) -| (66,5883) -| (cm7.north);
\draw [thick, ->] (cm7.south) -- (cm8.north);
\draw [thick, ->] (cm8.south) |- (40,5992) |- ([yshift=7]cm4.north);
\draw [thick, ->] (cm4.east) -| (283,6000) -| (cm9.north);
\draw [thick, ->] (cm9.south) -- (cm10.north);
\draw [thick, ->] (cm10.south) -- (cm11.north);
\draw [thick, ->] (cm11.south) -- (cm12.north);
\draw [thick, ->] (cm12.west) -| (65,6267) -| (cm15.north);
\draw [thick, ->] (cm15.south) -- (cm16.north);
\draw [thick, ->] (cm16.south) |- (26,6472) |- ([yshift=12]cm12.north);
\draw [thick, ->] (cm12.east) -| (286,6486) -| (cm17.north);
\draw [thick, ->] (cm17.south) -- (cm18.north);
\draw [thick, ->] (cm18.south) -- (cm19.north);
\draw [thick, ->] (cm19.south) -- (cm20.north);
\draw [thick, ->] (cm20.south) -- (cm21.north);
\draw [thick, ->] (cm21.south) -- (cm22.north);
\draw [thick, ->] (cm22.south) |- (29,6845) |- (cm19.west);
\draw [thick, ->] (cm19.east) -| (276,6852) -| (cm23.north);
\draw [thick, ->] (cm23.south) -- (cm24.north);
\draw [thick, ->] (cm24.south) -- (cm25.north);

\node [term={289}{39}] (gt1) at (494,5263) {\lns{\kw{void} get(\ty{HashTable}\& \pa{t})}};
\node [proc={159}{29}] (gt2) at (494,5310) {\lns{\ty{string} keyToGet;}};
\node [bare={239}{71}] (gt3) at (494,5372) {\lns{std::cout \op{<<}\\ \sr{"Введите ключ по}\\ \sr{которому будет}\\ \sr{найден элемент "};}};
\node [pred={147}{39}] (gt4) at (494,5440) {\lns{getline(cin,\\ keyToGet);}};
\node [bare={254}{71}] (gt5) at (494,5507) {\lns{cout \op{<<} \sr{"Получение}\\ \sr{элемента по ключу}\\ \sr{'"} \op{<<} keyToGet \op{<<}\\ \sr{"':"} \op{<<} endl;}};
\node [proc={241}{29}] (gt6) at (494,5582) {\lns{\ty{Node}* node = get(\pa{t}, keyToGet);}};
\node [dec={248}{58}] (gt7) at (494,5650) {\lns{\kw{if} (node != \kw{nullptr})}};
\node [lbl] (gt8) at (389,5675) {True};
\node [lbl] (gt9) at (601,5681) {False};
\node [bare={186}{130}] (gt10) at (431,5791) {\lns{cout \op{<<}\\ \sr{"Найден}\\ \sr{элемент: "}\\ \op{<<} node-\\>value \op{<<}\\ endl;}};
\node [bare={185}{130}] (gt11) at (557,5791) {\lns{cout \op{<<}\\ \sr{"Элемент}\\ \sr{с ключом}\\ \sr{'"} \op{<<}\\ keyToGet\\ \op{<<} \sr{"' не}\\ \sr{найден."}\\ \op{<<} endl;}};
\coordinate (gtm) at (494,5874);
\node [term={93}{23}] (gt12) at (494,5900) {\lns{\kw{Конец}}};
\ioframe{gt3}{31}
\ioframe{gt5}{30}
\ioframe{gt10}{62}
\ioframe{gt11}{62}
\draw [thick, ->] (gt1.south) -- (gt2.north);
\draw [thick, ->] (gt2.south) -- (gt3.north);
\draw [thick, ->] (gt3.south) -- (gt4.north);
\draw [thick, ->] (gt4.south) -- (gt5.north);
\draw [thick, ->] (gt5.south) -- (gt6.north);
\draw [thick, ->] (gt6.south) -- (gt7.north);
\draw [thick, ->] (gt7.west) -| (352,5697) -| (gt10.north);
\draw [thick, ->] (gt7.east) -| (635,5697) -| (gt11.north);
\draw [thick] (gt10.south) |- (gtm);
\draw [thick] (gt11.south) |- (gtm);
\draw [thick, ->] (gtm) -- (gt12.north);

\node [term={289}{39}] (uq1) at (494,5965) {\lns{\kw{void} removeByKeyMas(\ty{HashMas}\& \pa{t})}};
\node [proc={159}{30}] (uq2) at (494,6019) {\lns{\ty{string} keyToRemove;}};
\node [bare={215}{87}] (uq3) at (494,6096) {\lns{std::cout \op{<<}\\ \sr{"Введите ключ,}\\ \sr{по которому}\\ \sr{будет удален}\\ \sr{элемент "};}};
\node [pred={137}{39}] (uq4) at (494,6179) {\lns{getline(cin,\\ keyToRemove);}};
\node [pred={137}{39}] (uq5) at (494,6238) {\lns{getline(cin,\\ keyToRemove);}};
\node [bare={254}{71}] (uq6) at (494,6313) {\lns{std::cout \op{<<}\\ \sr{"Удаление по ключу}\\ \sr{'"} \op{<<} keyToRemove\\ \op{<<} \sr{"':"} \op{<<} endl;}};
\node [dec={248}{58}] (uq7) at (494,6399) {\lns{\kw{if} (removeByKeyMas(\pa{t},\\ keyToRemove))}};
\node [lbl] (uq8) at (394,6426) {True};
\node [lbl] (uq9) at (570,6429) {False};
\node [bare={185}{166}] (uq10) at (431,6590) {\lns{std::cout\\ \op{<<}\\ \sr{"Элемент с}\\ \sr{ключом '"}\\ \op{<<}\\ keyToRemov\\ e \op{<<} \sr{"'}\\ \sr{успешно}\\ \sr{удалён."}\\ \op{<<} endl;}};
\node [bare={184}{166}] (uq11) at (557,6590) {\lns{std::cout\\ \op{<<}\\ \sr{"Элемент}\\ \sr{с ключом}\\ \sr{'"} \op{<<}\\ keyToRemo\\ ve \op{<<} \sr{"'}\\ \sr{не}\\ \sr{найден."}\\ \op{<<} endl;}};
\coordinate (uqm) at (484,6691);
\node [pred={123}{29}] (uq12) at (484,6723) {\lns{printMas(\pa{t});}};
\node [term={93}{22}] (uq13) at (484,6768) {\lns{\kw{Конец}}};
\ioframe{uq3}{43}
\ioframe{uq6}{35}
\ioframe{uq10}{60}
\ioframe{uq11}{60}
\draw [thick, ->] (uq1.south) -- (uq2.north);
\draw [thick, ->] (uq2.south) -- (uq3.north);
\draw [thick, ->] (uq3.south) -- (uq4.north);
\draw [thick, ->] (uq4.south) -- (uq5.north);
\draw [thick, ->] (uq5.south) -- (uq6.north);
\draw [thick, ->] (uq6.south) -- (uq7.north);
\draw [thick, ->] (uq7.west) -| (365,6446) -| (uq10.north);
\draw [thick, ->] (uq7.east) -| (623,6446) -| (uq11.north);
\draw [thick] (uq10.south) |- (uqm);
\draw [thick] (uq11.south) |- (uqm);
\draw [thick, ->] (uqm) -- (uq12.north);
\draw [thick, ->] (uq12.south) -- (uq13.north);

\node [term={289}{38}] (uw1) at (494,6841) {\lns{\kw{void} removeByValueMas(\ty{HashMas}\& \pa{t})}};
\node [proc={159}{30}] (uw2) at (494,6895) {\lns{\ty{string}\\ valueToRemove;}};
\node [bare={248}{87}] (uw3) at (494,6973) {\lns{std::cout \op{<<}\\ \sr{"Введите}\\ \sr{значение, по}\\ \sr{которому будет}\\ \sr{удален элемент "};}};
\node [pred={147}{40}] (uw4) at (494,7055) {\lns{getline(cin,\\ valueToRemove);}};
\node [bare={262}{84}] (uw5) at (494,7135) {\lns{std::cout \op{<<}\\ \sr{"Удаление по}\\ \sr{значению '"} \op{<<}\\ valueToRemove \op{<<}\\ \sr{"':"} \op{<<} endl;}};
\node [dec={250}{67}] (uw6) at (494,7230) {\lns{\kw{if} (removeByValueMas(\pa{t},\\ valueToRemove))}};
\node [lbl] (uw7) at (392,7248) {True};
\node [lbl] (uw8) at (602,7256) {False};
\node [bare={187}{166}] (uw9) at (432,7371) {\lns{cout \op{<<}\\ \sr{"Элемент}\\ \sr{со}\\ \sr{значением}\\ \sr{'"} \op{<<}\\ valueToRem\\ ove \op{<<} \sr{"'}\\ \sr{успешно}\\ \sr{удалён."}\\ \op{<<} endl;}};
\node [bare={184}{166}] (uw10) at (560,7371) {\lns{cout \op{<<}\\ \sr{"Элемент}\\ \sr{со}\\ \sr{значением}\\ \sr{'"} \op{<<}\\ valueToRe\\ move \op{<<}\\ \sr{"' не}\\ \sr{найден."}\\ \op{<<} endl;}};
\coordinate (uwm) at (485,7472);
\node [pred={124}{30}] (uw11) at (485,7506) {\lns{printMas(\pa{t});}};
\node [term={94}{23}] (uw12) at (485,7545) {\lns{\kw{Конец}}};
\ioframe{uw3}{40}
\ioframe{uw5}{43}
\ioframe{uw9}{58}
\ioframe{uw10}{60}
\draw [thick, ->] (uw1.south) -- (uw2.north);
\draw [thick, ->] (uw2.south) -- (uw3.north);
\draw [thick, ->] (uw3.south) -- (uw4.north);
\draw [thick, ->] (uw4.south) -- (uw5.north);
\draw [thick, ->] (uw5.south) -- (uw6.north);
\draw [thick, ->] (uw6.west) -| (362,7271) -| (uw9.north);
\draw [thick, ->] (uw6.east) -| (629,7271) -| (uw10.north);
\draw [thick] (uw9.south) |- (uwm);
\draw [thick] (uw10.south) |- (uwm);
\draw [thick, ->] (uwm) -- (uw11.north);
\draw [thick, ->] (uw11.south) -- (uw12.north);

\node [term={290}{39}] (gg1) at (160,7106) {\lns{\kw{void} getMas(\ty{HashMas}\& \pa{t})}};
\node [proc={160}{27}] (gg2) at (160,7154) {\lns{\ty{string} keyToGet;}};
\node [bare={242}{71}] (gg3) at (161,7215) {\lns{std::cout \op{<<}\\ \sr{"Введите ключ по}\\ \sr{которому будет}\\ \sr{найден элемент "};}};
\node [pred={147}{40}] (gg4) at (160,7283) {\lns{getline(cin,\\ keyToGet);}};
\node [bare={256}{71}] (gg5) at (161,7351) {\lns{cout \op{<<} \sr{"Получение}\\ \sr{элемента по ключу}\\ \sr{'"} \op{<<} keyToGet \op{<<}\\ \sr{"':"} \op{<<} endl;}};
\node [proc={289}{30}] (gg6) at (161,7422) {\lns{\ty{elemMas}* node = getMas(\pa{t}, keyToGet);}};
\node [dec={249}{59}] (gg7) at (161,7495) {\lns{\kw{if} (node != \kw{nullptr})}};
\node [lbl] (gg8) at (56,7519) {True};
\node [lbl] (gg9) at (269,7526) {False};
\node [bare={187}{135}] (gg10) at (98,7640) {\lns{cout \op{<<}\\ \sr{"Найден}\\ \sr{элемент: "}\\ \op{<<} node-\\>value \op{<<}\\ endl;}};
\node [bare={184}{135}] (gg11) at (225,7640) {\lns{cout \op{<<}\\ \sr{"Элемент}\\ \sr{с ключом}\\ \sr{'"} \op{<<}\\ keyToGet\\ \op{<<} \sr{"' не}\\ \sr{найден."}\\ \op{<<} endl;}};
\coordinate (ggm) at (161,7725);
\node [term={94}{23}] (gg12) at (161,7748) {\lns{\kw{Конец}}};
\ioframe{gg3}{27}
\ioframe{gg5}{33}
\ioframe{gg10}{62}
\ioframe{gg11}{60}
\draw [thick, ->] (gg1.south) -- (gg2.north);
\draw [thick, ->] (gg2.south) -- (gg3.north);
\draw [thick, ->] (gg3.south) -- (gg4.north);
\draw [thick, ->] (gg4.south) -- (gg5.north);
\draw [thick, ->] (gg5.south) -- (gg6.north);
\draw [thick, ->] (gg6.south) -- (gg7.north);
\draw [thick, ->] (gg7.west) -| (18,7542) -| (gg10.north);
\draw [thick, ->] (gg7.east) -| (303,7542) -| (gg11.north);
\draw [thick] (gg10.south) |- (ggm);
\draw [thick] (gg11.south) |- (ggm);
\draw [thick, ->] (ggm) -- (gg12.north);
\end{tikzpicture}
\end{document}
